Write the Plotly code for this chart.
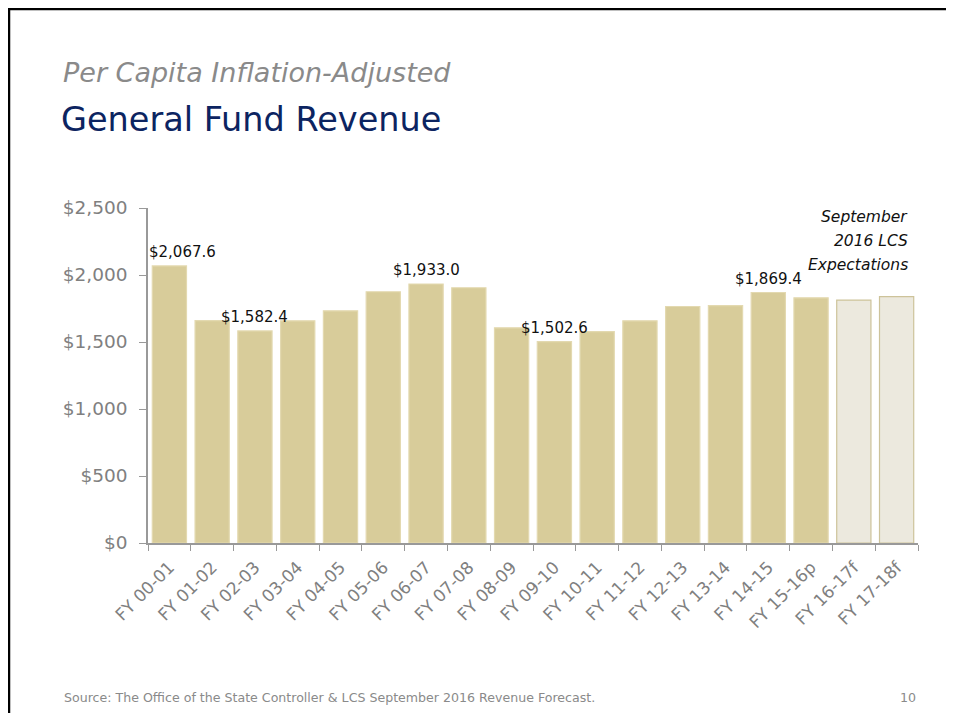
import plotly.graph_objects as go

categories = ["FY 00-01", "FY 01-02", "FY 02-03", "FY 03-04", "FY 04-05", "FY 05-06",
              "FY 06-07", "FY 07-08", "FY 08-09", "FY 09-10", "FY 10-11", "FY 11-12",
              "FY 12-13", "FY 13-14", "FY 14-15", "FY 15-16p", "FY 16-17f", "FY 17-18f"]
values = [2067.6, 1660, 1582.4, 1658, 1733, 1875, 1933.0, 1905, 1606, 1502.6,
          1578, 1658, 1765, 1772, 1869.4, 1830, 1813, 1838]
is_forecast = [False] * 16 + [True, True]
labeled = {"FY 00-01": "$2,067.6", "FY 02-03": "$1,582.4", "FY 06-07": "$1,933.0",
           "FY 09-10": "$1,502.6", "FY 14-15": "$1,869.4"}
tick_vals = [0, 500, 1000, 1500, 2000, 2500]
tick_text = ["$0", "$500", "$1,000", "$1,500", "$2,000", "$2,500"]
note_lines = ["September", "2016 LCS", "Expectations"]

FONT = "DejaVu Sans"
GRAY = "#808080"
fill = ["#ece9de" if f else "#d8cc9a" for f in is_forecast]
line_col = ["#cdc39a" if f else "#e3d9b0" for f in is_forecast]

fig = go.Figure()
fig.add_trace(go.Bar(
    x=categories, y=values,
    marker=dict(color=fill, line=dict(color=line_col, width=1.2)),
    hoverinfo="x+y",
))

# page has an 8px body margin; figure coordinates = screen - 8
OFF = 8
W, H = 954 - OFF, 721 - 2 * OFF
L, R, T, B = 148 - OFF, W - (918 - OFF), 208 - OFF, H - (543 - OFF)
pw, ph = W - L - R, H - T - B


def px(x):
    return (x - OFF - L) / pw


def py(y):
    return (H - B - (y - OFF)) / ph


annotations = []
for cat, txt in labeled.items():
    v = values[categories.index(cat)]
    annotations.append(dict(
        x=cat, y=v, xref="x", yref="y", text=txt, showarrow=False,
        yanchor="bottom", yshift=3, xshift=13 if cat == "FY 00-01" else 0,
        font=dict(family=FONT, size=15, color="#111111")))

for line, yc in zip(note_lines, [217, 241, 265]):
    annotations.append(dict(
        x=px(910), y=py(yc), xref="paper", yref="paper", xanchor="right", yanchor="middle",
        showarrow=False, text="<i>" + line + "</i>",
        font=dict(family=FONT, size=15.5, color="#111111")))

annotations.append(dict(
    x=px(61), y=py(73), xref="paper", yref="paper", xanchor="left", yanchor="middle",
    showarrow=False, text="<i>Per Capita Inflation-Adjusted</i>",
    font=dict(family=FONT, size=27, color="#8a8a8a")))
annotations.append(dict(
    x=px(59), y=py(120), xref="paper", yref="paper", xanchor="left", yanchor="middle",
    showarrow=False, text="General Fund Revenue",
    font=dict(family=FONT, size=33.5, color="#0c2461")))
annotations.append(dict(
    x=px(62), y=py(697), xref="paper", yref="paper", xanchor="left", yanchor="middle",
    showarrow=False,
    text="Source: The Office of the State Controller & LCS September 2016 Revenue Forecast.",
    font=dict(family=FONT, size=12.6, color="#8a8a8a")))
annotations.append(dict(
    x=px(918), y=py(697), xref="paper", yref="paper", xanchor="right", yanchor="middle",
    showarrow=False, text="10",
    font=dict(family=FONT, size=12.6, color="#8a8a8a")))

shapes = [
    dict(type="line", xref="paper", yref="paper", x0=px(8), x1=px(960), y0=py(9), y1=py(9),
         line=dict(color="black", width=2.5)),
    dict(type="line", xref="paper", yref="paper", x0=px(9), x1=px(9), y0=py(8), y1=py(730),
         line=dict(color="black", width=2.5)),
]

fig.update_layout(
    width=W, height=H, autosize=False,
    margin=dict(l=L, r=R, t=T, b=B, pad=0),
    paper_bgcolor="white", plot_bgcolor="white",
    bargap=0.2, showlegend=False,
    font=dict(family=FONT, color=GRAY),
    annotations=annotations, shapes=shapes,
    modebar=dict(bgcolor="rgba(0,0,0,0)", color="rgba(0,0,0,0)",
                 activecolor="rgba(0,0,0,0)"),
    xaxis=dict(
        type="category", tickangle=-45, tickson="boundaries",
        ticks="outside", ticklen=6, tickcolor="#999999",
        showline=True, linecolor="#999999", linewidth=1.5,
        showgrid=False, tickfont=dict(family=FONT, size=17, color=GRAY),
        ticklabelstandoff=6,
        range=[-0.5, 17.5],
    ),
    yaxis=dict(
        range=[0, 2500], tickvals=tick_vals, ticktext=tick_text,
        ticks="outside", ticklen=7, tickcolor="#999999",
        showline=True, linecolor="#999999", linewidth=1.5,
        showgrid=False, zeroline=False,
        ticklabelstandoff=8,
        tickfont=dict(family=FONT, size=18.5, color=GRAY),
    ),
)

fig.write_html("out.html")
